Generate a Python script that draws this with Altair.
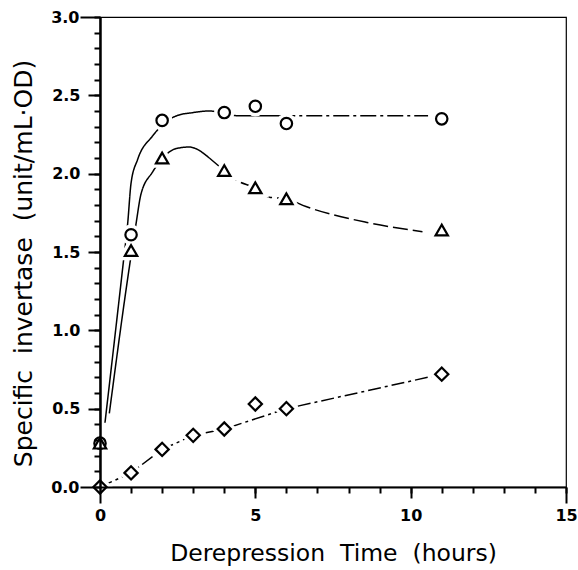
import altair as alt
import pandas as pd

# ---------------- data ----------------
hours_circle = [0, 1, 2, 4, 5, 6, 11]
invertase_circle = [0.28, 1.61, 2.34, 2.39, 2.43, 2.32, 2.35]

hours_triangle = [0, 1, 2, 4, 5, 6, 11]
invertase_triangle = [0.28, 1.51, 2.10, 2.02, 1.91, 1.84, 1.64]

hours_diamond = [0, 1, 2, 3, 4, 5, 6, 11]
invertase_diamond = [0.00, 0.09, 0.24, 0.33, 0.37, 0.53, 0.50, 0.72]

# hand-drawn fitted curves
circle_fit_x = [0.16, 0.76, 0.89, 1.00, 1.21, 1.69, 2.00, 2.47, 3.00, 3.52, 4.43, 5.77]
circle_fit_y = [0.41, 1.45, 1.68, 1.94, 2.09, 2.24, 2.31, 2.37, 2.39, 2.40, 2.37, 2.37]
circle_tail_x = [5.77, 10.56]
circle_tail_y = [2.37, 2.37]

triangle_fit_x = [0.30, 0.98, 1.16, 1.32, 1.69, 2.02, 2.45, 2.87, 3.52]
triangle_fit_y = [0.47, 1.45, 1.68, 1.87, 2.01, 2.10, 2.16, 2.17, 2.10]
triangle_tail_x = [3.52, 4.00, 4.38, 4.97, 5.45, 5.99, 6.63, 8.56, 10.38]
triangle_tail_y = [2.10, 2.02, 1.96, 1.91, 1.85, 1.84, 1.79, 1.69, 1.63]

diamond_fit_x = [0, 1, 2, 3, 4, 6, 11]
diamond_fit_y = [0.00, 0.09, 0.24, 0.33, 0.37, 0.50, 0.72]

# axis ticks
x_minor_ticks = list(range(0, 16))
x_major_ticks = [5, 10]
x_end_ticks = [0, 15]
y_minor_ticks = [i / 10 for i in range(0, 31)]
y_major_ticks = [0.5, 1.0, 1.5, 2.0, 2.5]
y_end_ticks = [0.0, 3.0]

# ---------------- tables ----------------
markers = pd.concat([
    pd.DataFrame({"series": "circle", "x": hours_circle, "y": invertase_circle}),
    pd.DataFrame({"series": "triangle", "x": hours_triangle, "y": invertase_triangle}),
    pd.DataFrame({"series": "diamond", "x": hours_diamond, "y": invertase_diamond}),
], ignore_index=True)

curves = pd.concat([
    pd.DataFrame({"seg": "c1", "style": "solid", "x": circle_fit_x, "y": circle_fit_y}),
    pd.DataFrame({"seg": "c2", "style": "dashdot", "x": circle_tail_x, "y": circle_tail_y}),
    pd.DataFrame({"seg": "t1", "style": "solid", "x": triangle_fit_x, "y": triangle_fit_y}),
    pd.DataFrame({"seg": "t2", "style": "dash", "x": triangle_tail_x, "y": triangle_tail_y}),
], ignore_index=True)

diamond_line = pd.DataFrame({"seg": "d", "style": "dashdot2", "x": diamond_fit_x, "y": diamond_fit_y})

# ---------------- axes ----------------
LABEL = dict(labelFont="DejaVu Sans", labelFontWeight="bold", labelFontSize=16,
             labelColor="black", labelFlush=False, labelOverlap=False)
TITLE = dict(titleFont="DejaVu Sans", titleFontWeight="normal",
             titleColor="black", titleBaseline="alphabetic")


def xaxis(kind):
    if kind == "minor":
        return alt.Axis(orient="bottom", values=x_minor_ticks, labels=False, tickSize=6,
                        tickWidth=2, tickColor="black", domain=True, domainWidth=2,
                        domainColor="black", title=None, grid=False, zindex=1)
    if kind == "major":
        return alt.Axis(orient="bottom", values=x_major_ticks, tickSize=11, labelPadding=9,
                        tickWidth=2, tickColor="black", domain=False, format="d",
                        title=None, grid=False, zindex=1, **LABEL)
    return alt.Axis(orient="bottom", values=x_end_ticks, tickSize=16, labelPadding=4,
                    tickWidth=2, tickColor="black", domain=False, format="d",
                    title="Derepression\u00a0 Time\u00a0 (hours)", titleY=73, titleFontSize=23.5,
                    grid=False, zindex=1, **LABEL, **TITLE)


def yaxis(kind):
    if kind == "minor":
        return alt.Axis(orient="left", values=y_minor_ticks, labels=False, tickSize=6,
                        tickWidth=2, tickColor="black", domain=True, domainWidth=2.5,
                        domainColor="black", title=None, grid=False, zindex=1)
    if kind == "major":
        return alt.Axis(orient="left", values=y_major_ticks, tickSize=12, labelPadding=8,
                        tickWidth=2, tickColor="black", domain=False, format=".1f",
                        title=None, grid=False, zindex=1, **LABEL)
    return alt.Axis(orient="left", values=y_end_ticks, tickSize=20, labelPadding=1,
                    tickWidth=2, tickColor="black", domain=False, format=".1f",
                    title="Specific\u00a0 invertase\u00a0 (unit/mL\u00b7OD)", titleFontSize=25,
                    titleX=-69, titleY=246, grid=False, zindex=1, **LABEL, **TITLE)


def X(kind):
    return alt.X("x:Q", scale=alt.Scale(domain=[0, 15], nice=False, zero=False), axis=xaxis(kind))


def Y(kind):
    return alt.Y("y:Q", scale=alt.Scale(domain=[0, 3], nice=False, zero=False), axis=yaxis(kind))


dash_scale = alt.Scale(
    domain=["solid", "dash", "dashdot", "dashdot2"],
    range=[[1, 0], [15, 5], [16, 4, 3, 4], [13, 4, 3, 4]],
)
shape_scale = alt.Scale(
    domain=["circle", "triangle", "diamond"],
    range=["circle", "triangle-up", "M -1 0 L 0 -1 L 1 0 L 0 1 Z"],
)
size_scale = alt.Scale(domain=["circle", "triangle", "diamond"], range=[130, 175, 215])

curve_layer = alt.Chart(curves).mark_line(
    color="black", strokeWidth=1.5, interpolate="monotone"
).encode(
    x=X("minor"), y=Y("minor"), detail="seg:N",
    strokeDash=alt.StrokeDash("style:N", scale=dash_scale, legend=None),
)

diamond_layer = alt.Chart(diamond_line).mark_line(
    color="black", strokeWidth=1.5
).encode(
    x=X("major"), y=Y("major"), detail="seg:N",
    strokeDash=alt.StrokeDash("style:N", scale=dash_scale, legend=None),
)

halo_layer = alt.Chart(markers).mark_point(
    filled=True, fill="white", stroke="white", strokeWidth=9, opacity=1
).encode(
    x=X("end"), y=Y("end"),
    shape=alt.Shape("series:N", scale=shape_scale, legend=None),
    size=alt.Size("series:N", scale=size_scale, legend=None),
)

marker_layer = alt.Chart(markers).mark_point(
    filled=True, fill="white", stroke="black", strokeWidth=2.2, opacity=1
).encode(
    x=alt.X("x:Q", axis=None), y=alt.Y("y:Q", axis=None),
    shape=alt.Shape("series:N", scale=shape_scale, legend=None),
    size=alt.Size("series:N", scale=size_scale, legend=None),
)

chart = alt.layer(curve_layer, diamond_layer, halo_layer, marker_layer).resolve_axis(
    x="independent", y="independent"
).resolve_scale(x="shared", y="shared").properties(
    width=466, height=470,
    autosize=alt.AutoSizeParams(type="none"),
    padding={"left": 100, "top": 17, "right": 12, "bottom": 83},
    background="white",
).configure_view(stroke="black", strokeWidth=1.2)

chart.save("out.html", embed_options={"renderer": "svg", "actions": False})
